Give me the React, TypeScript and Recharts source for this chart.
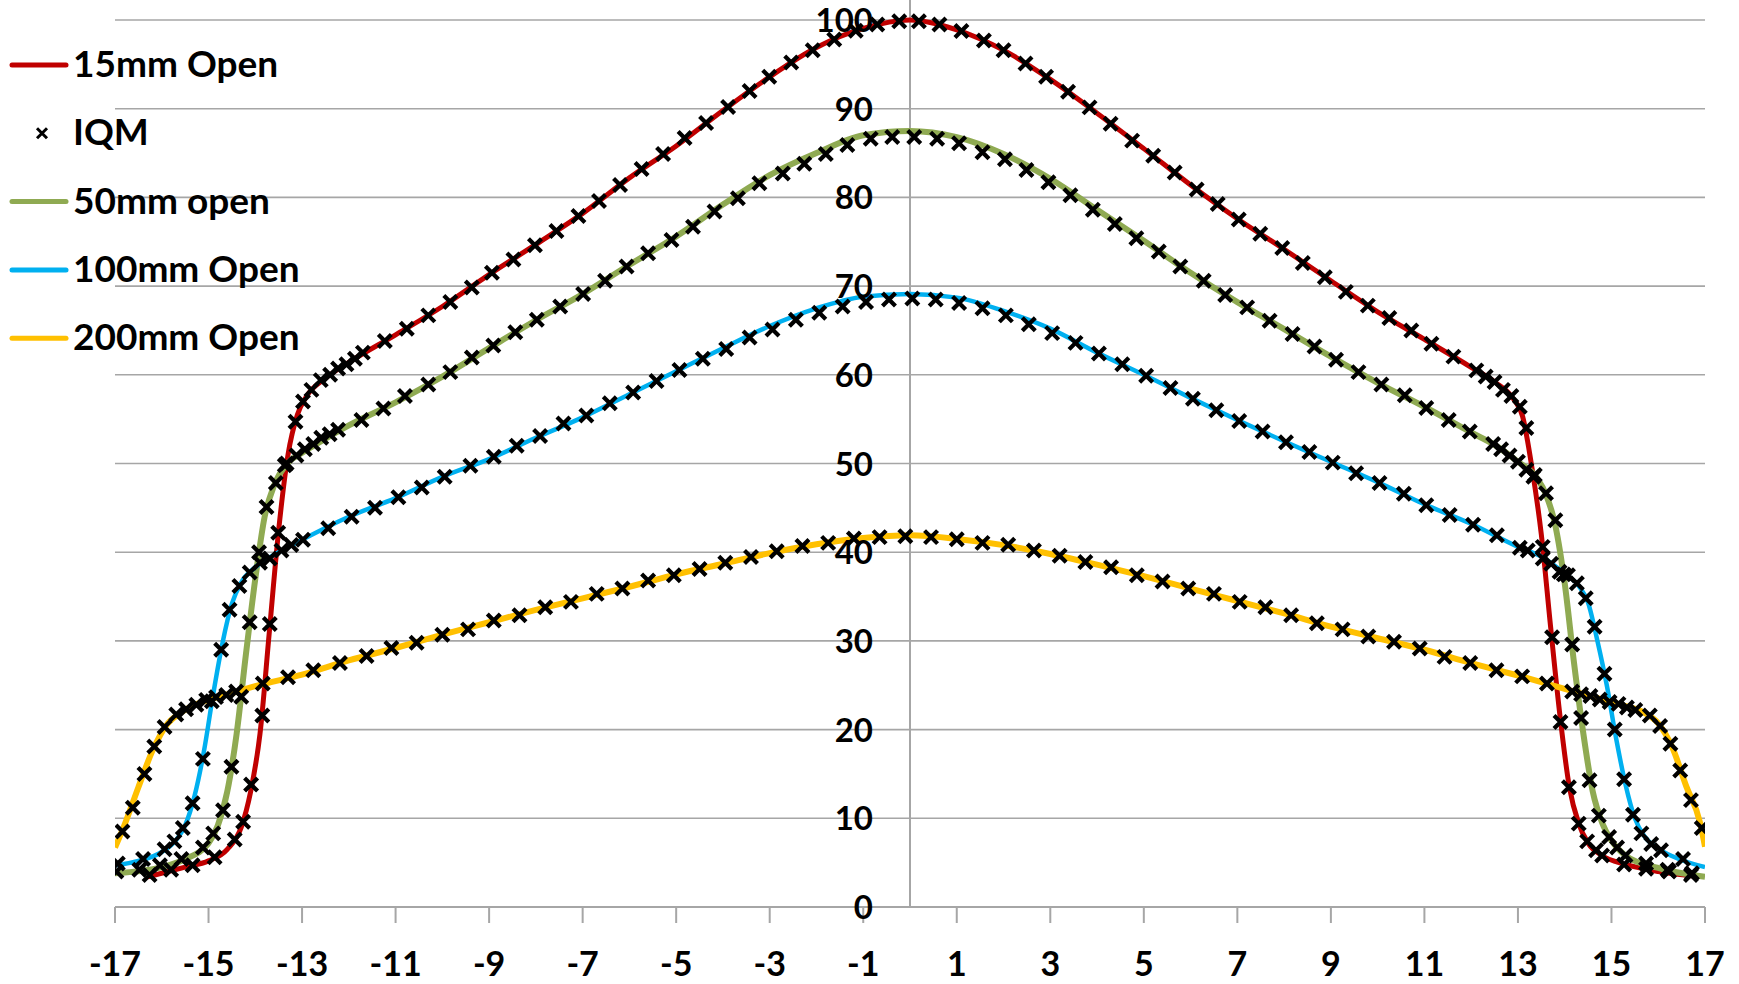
import React from 'react';
import {
  ComposedChart,
  Line,
  Scatter,
  XAxis,
  YAxis,
  CartesianGrid,
  ReferenceLine,
} from 'recharts';

// off-axis position (x) vs relative dose (y)
const xTicks = [-17, -15, -13, -11, -9, -7, -5, -3, -1, 1, 3, 5, 7, 9, 11, 13, 15, 17];
const yTicks = [0, 10, 20, 30, 40, 50, 60, 70, 80, 90, 100];

const open15Line: [number, number][] = [
  [-16.3, 3.4], [-15.5, 4.5], [-15, 5.2], [-14.6, 6.5], [-14.3, 9], [-14.1, 13], [-13.9, 19.5],
  [-13.7, 31], [-13.5, 42.5], [-13.3, 51], [-13.1, 55.5], [-12.9, 57.6], [-12.5, 59.6], [-12, 61.4],
  [-11, 64.5], [-10, 67.7], [-9, 71.3], [-8, 74.7], [-7, 78.2], [-6, 82.2], [-5, 85.8], [-4, 89.8],
  [-3, 93.6], [-2, 96.9], [-1, 99.05], [0, 100], [1, 98.9], [2, 96.6], [3, 93.3], [4, 89.5],
  [5, 85.5], [6, 81.4], [7, 77.6], [8, 74.15], [9, 70.6], [10, 67.1], [11, 64.0], [12, 60.85],
  [12.5, 59.2], [12.9, 57.3], [13.1, 55.3], [13.3, 49.5], [13.5, 42], [13.7, 31.5], [13.9, 21.5],
  [14.1, 13.5], [14.3, 9.4], [14.5, 7.2], [14.8, 5.8], [15.3, 4.8], [16, 4.0], [16.75, 3.5],
];

const open50Line: [number, number][] = [
  [-17, 3.8], [-16, 4.5], [-15.5, 5.4], [-15, 7.2], [-14.8, 9.2], [-14.6, 13], [-14.4, 19.5],
  [-14.2, 28.5], [-14, 37], [-13.8, 44], [-13.6, 47.5], [-13.3, 50.1], [-13, 51.2], [-12.5, 52.8],
  [-12, 54.3], [-11, 56.9], [-10, 59.8], [-9, 63.0], [-8, 66.15], [-7, 69.1], [-6, 72.4],
  [-5, 75.6], [-4, 79.2], [-3, 82.5], [-2, 85.0], [-1, 87.0], [0, 87.5], [1, 86.8], [2, 84.9],
  [3, 82.1], [4, 78.6], [5, 75.1], [6, 71.5], [7, 68.2], [8, 65.15], [9, 62.05], [10, 59.1],
  [11, 56.4], [12, 53.5], [12.5, 52.1], [13, 50.2], [13.4, 48.4], [13.6, 46.5], [13.8, 43],
  [14, 36.5], [14.2, 27.5], [14.4, 19.5], [14.6, 13], [14.8, 9.5], [15, 7.5], [15.3, 5.8],
  [16, 4.4], [17, 3.4],
];

const open100Line: [number, number][] = [
  [-17, 4.7], [-16.5, 5.2], [-16, 6.2], [-15.7, 7.5], [-15.5, 9.2], [-15.3, 12.5], [-15.1, 17.5],
  [-14.9, 24], [-14.7, 29.8], [-14.5, 34.2], [-14.3, 36.6], [-14, 38.3], [-13.5, 40.0], [-13, 41.4],
  [-12, 44.0], [-11, 46.1], [-10, 48.5], [-9, 50.5], [-8, 52.9], [-7, 55.2], [-6, 57.8],
  [-5, 60.4], [-4, 63.0], [-3, 65.5], [-2, 67.5], [-1, 68.8], [0, 69.1], [1, 68.7], [2, 67.2],
  [3, 65.2], [4, 62.5], [5, 60.0], [6, 57.4], [7, 54.9], [8, 52.5], [9, 50.2], [10, 47.9],
  [11, 45.4], [12, 43.2], [13, 40.6], [13.5, 39.5], [14, 37.6], [14.3, 36.2], [14.5, 34.3],
  [14.7, 30.0], [14.9, 25], [15.1, 19], [15.3, 13.8], [15.5, 10.0], [15.7, 8.0], [16, 6.6],
  [16.5, 5.3], [17, 4.5],
];

const open200Line: [number, number][] = [
  [-17, 6.7], [-16.8, 9.2], [-16.5, 13.5], [-16.2, 17.6], [-15.9, 20.5], [-15.6, 21.9],
  [-15.2, 23.0], [-14.5, 24.1], [-14, 24.9], [-13, 26.2], [-12, 27.8], [-11, 29.2], [-10, 30.7],
  [-9, 32.1], [-8, 33.5], [-7, 34.8], [-6, 36.1], [-5, 37.5], [-4, 38.7], [-3, 39.9], [-2, 40.9],
  [-1, 41.6], [0, 41.9], [1, 41.5], [2, 40.8], [3, 39.8], [4, 38.6], [5, 37.3], [6, 35.9],
  [7, 34.5], [8, 33.1], [9, 31.6], [10, 30.3], [11, 29.0], [12, 27.5], [13, 26.1], [14, 24.6],
  [14.6, 23.7], [15.2, 22.8], [15.7, 21.9], [16, 20.7], [16.3, 18.0], [16.6, 13.6], [16.9, 9.4],
  [17, 6.8],
];

const iqm15: [number, number][] = [
  [-16.26, 3.6], [-15.8, 4.2], [-15.34, 4.7], [-14.87, 5.6], [-14.44, 7.6], [-14.26, 9.6],
  [-14.09, 13.8], [-13.85, 21.6], [-13.69, 31.9], [-13.51, 42.2], [-13.33, 50], [-13.14, 54.7],
  [-12.98, 57], [-12.8, 58.3], [-12.6, 59.4], [-12.4, 60], [-12.23, 60.7], [-12.05, 61.2],
  [-11.87, 61.8], [-11.7, 62.5], [-11.23, 63.8], [-10.76, 65.2], [-10.3, 66.7], [-9.83, 68.2],
  [-9.37, 69.85], [-8.94, 71.5], [-8.48, 73.0], [-8.02, 74.6], [-7.56, 76.2], [-7.09, 77.9],
  [-6.65, 79.6], [-6.2, 81.4], [-5.74, 83.2], [-5.28, 84.9], [-4.82, 86.7], [-4.36, 88.4],
  [-3.89, 90.2], [-3.43, 92.0], [-3.01, 93.6], [-2.54, 95.2], [-2.08, 96.6], [-1.62, 97.8],
  [-1.16, 98.8], [-0.7, 99.5], [-0.23, 99.85], [0.19, 99.85], [0.63, 99.5], [1.1, 98.75],
  [1.58, 97.7], [2.0, 96.6], [2.47, 95.1], [2.91, 93.6], [3.38, 91.9], [3.84, 90.15], [4.29, 88.3],
  [4.75, 86.4], [5.2, 84.7], [5.66, 82.8], [6.13, 80.9], [6.58, 79.25], [7.03, 77.5], [7.49, 75.9],
  [7.96, 74.3], [8.4, 72.6], [8.87, 71.0], [9.32, 69.35], [9.79, 67.8], [10.25, 66.4],
  [10.72, 65.0], [11.15, 63.5], [11.62, 62.05], [12.11, 60.5], [12.31, 59.8], [12.5, 59.2],
  [12.68, 58.3], [12.86, 57.6], [13.04, 56.4], [13.18, 54.0], [13.33, 48.5], [13.53, 40.6],
  [13.73, 30.4], [13.91, 20.85], [14.09, 13.5], [14.3, 9.4], [14.48, 7.4], [14.67, 6.4],
  [14.8, 5.8], [15.27, 4.8], [15.74, 4.3], [16.23, 4.0], [16.7, 3.6],
];

const iqm50: [number, number][] = [
  [-16.97, 4.0], [-16.48, 4.2], [-16.04, 4.7], [-15.58, 5.4], [-15.12, 6.7], [-14.9, 8.3],
  [-14.69, 10.9], [-14.51, 15.8], [-14.3, 23.7], [-14.12, 32.1], [-13.92, 40], [-13.76, 45.1],
  [-13.56, 47.8], [-13.37, 49.8], [-13.12, 50.9], [-12.94, 51.6], [-12.76, 52.2], [-12.59, 52.9],
  [-12.41, 53.3], [-12.23, 53.8], [-11.73, 54.9], [-11.26, 56.2], [-10.8, 57.6], [-10.3, 58.9],
  [-9.83, 60.3], [-9.37, 61.96], [-8.91, 63.3], [-8.44, 64.8], [-7.98, 66.2], [-7.48, 67.7],
  [-6.99, 69.1], [-6.52, 70.6], [-6.06, 72.2], [-5.6, 73.7], [-5.1, 75.2], [-4.64, 76.7],
  [-4.18, 78.4], [-3.68, 79.9], [-3.22, 81.6], [-2.72, 82.7], [-2.26, 83.8], [-1.8, 84.9],
  [-1.34, 85.9], [-0.84, 86.6], [-0.38, 86.8], [0.09, 86.8], [0.58, 86.6], [1.05, 86.1],
  [1.55, 85.1], [2.03, 84.3], [2.49, 83.1], [2.96, 81.7], [3.43, 80.25], [3.91, 78.6], [4.38, 77.0],
  [4.84, 75.4], [5.32, 73.9], [5.78, 72.2], [6.28, 70.6], [6.74, 69.0], [7.21, 67.6], [7.69, 66.1],
  [8.18, 64.6], [8.65, 63.2], [9.11, 61.7], [9.59, 60.3], [10.08, 58.9], [10.58, 57.7],
  [11.04, 56.25], [11.52, 54.9], [11.97, 53.6], [12.47, 52.2], [12.64, 51.6], [12.82, 50.9],
  [13.0, 50.2], [13.18, 49.3], [13.36, 48.7], [13.6, 46.65], [13.8, 43.6], [13.98, 37.5],
  [14.16, 29.6], [14.35, 21.3], [14.53, 14.3], [14.73, 10.3], [14.95, 7.9], [15.12, 6.7],
  [15.3, 5.8], [15.74, 4.9], [16.2, 4.2], [16.72, 3.8],
];

const iqm100: [number, number][] = [
  [-16.94, 4.9], [-16.4, 5.4], [-15.94, 6.5], [-15.73, 7.4], [-15.55, 8.9], [-15.34, 11.7],
  [-15.12, 16.7], [-14.93, 23.2], [-14.73, 29], [-14.55, 33.5], [-14.34, 36.2], [-14.12, 37.7],
  [-13.9, 38.8], [-13.69, 39.3], [-13.44, 40.2], [-13.23, 40.8], [-12.98, 41.4], [-12.44, 42.7],
  [-11.94, 44], [-11.44, 45], [-10.94, 46.2], [-10.44, 47.3], [-9.95, 48.5], [-9.4, 49.75],
  [-8.9, 50.75], [-8.41, 52.0], [-7.91, 53.1], [-7.41, 54.5], [-6.92, 55.4], [-6.42, 56.8],
  [-5.92, 58.0], [-5.42, 59.3], [-4.93, 60.55], [-4.43, 61.8], [-3.93, 62.9], [-3.43, 64.2],
  [-2.94, 65.1], [-2.44, 66.2], [-1.94, 67.0], [-1.44, 67.7], [-0.94, 68.2], [-0.45, 68.5],
  [0.05, 68.6], [0.55, 68.5], [1.05, 68.1], [1.55, 67.5], [2.05, 66.7], [2.54, 65.7], [3.04, 64.7],
  [3.54, 63.6], [4.04, 62.4], [4.54, 61.2], [5.05, 59.9], [5.57, 58.5], [6.05, 57.3], [6.55, 56.0],
  [7.04, 54.8], [7.54, 53.6], [8.04, 52.4], [8.54, 51.3], [9.04, 50.1], [9.54, 48.9],
  [10.04, 47.8], [10.56, 46.6], [11.04, 45.3], [11.54, 44.2], [12.04, 43.1], [12.55, 41.9],
  [13.04, 40.5], [13.21, 40.2], [13.53, 39.3], [13.71, 38.7], [13.89, 37.8], [14.07, 37.4],
  [14.26, 36.5], [14.45, 34.8], [14.64, 31.6], [14.85, 26.3], [15.07, 20.0], [15.27, 14.4],
  [15.46, 10.4], [15.64, 8.3], [15.85, 7.1], [16.06, 6.4], [16.53, 5.4],
];

const iqm200: [number, number][] = [
  [-16.84, 8.5], [-16.62, 11.2], [-16.37, 15], [-16.16, 18.1], [-15.94, 20.3], [-15.69, 21.7],
  [-15.48, 22.3], [-15.26, 22.8], [-15.05, 23.35], [-14.84, 23.66], [-14.62, 23.9], [-14.41, 24.3],
  [-13.84, 25.2], [-13.3, 25.9], [-12.76, 26.7], [-12.19, 27.5], [-11.62, 28.3], [-11.09, 29.2],
  [-10.55, 29.8], [-10.0, 30.7], [-9.45, 31.3], [-8.9, 32.3], [-8.35, 32.9], [-7.8, 33.8],
  [-7.25, 34.4], [-6.7, 35.3], [-6.15, 35.9], [-5.6, 36.8], [-5.05, 37.4], [-4.5, 38.1],
  [-3.95, 38.8], [-3.4, 39.45], [-2.85, 40.1], [-2.3, 40.7], [-1.75, 41.05], [-1.2, 41.55],
  [-0.65, 41.7], [-0.1, 41.8], [0.45, 41.7], [1.0, 41.45], [1.55, 41.05], [2.1, 40.85],
  [2.65, 40.2], [3.2, 39.6], [3.75, 38.9], [4.3, 38.3], [4.85, 37.4], [5.4, 36.7], [5.95, 35.9],
  [6.5, 35.3], [7.05, 34.4], [7.6, 33.8], [8.15, 32.9], [8.7, 32.0], [9.25, 31.3], [9.8, 30.5],
  [10.35, 29.9], [10.9, 29.15], [11.43, 28.2], [11.98, 27.5], [12.54, 26.7], [13.09, 26.0],
  [13.62, 25.2], [14.16, 24.3], [14.35, 24.0], [14.55, 23.8], [14.75, 23.4], [14.96, 23.1],
  [15.15, 22.9], [15.33, 22.5], [15.51, 22.2], [15.82, 21.6], [16.04, 20.4], [16.26, 18.4],
  [16.47, 15.4], [16.7, 12.05], [16.93, 8.9],
];

const toPoints = (rows: [number, number][]) => rows.map(([x, y]) => ({ x, y }));

const WIDTH = 1739;
const HEIGHT = 984;
const Y_AXIS_WIDTH = 1;
const MARGIN = { top: 20, right: 34, bottom: 17, left: 115 - Y_AXIS_WIDTH };
const X_AXIS_HEIGHT = 60;
const X_MIN = -17;
const X_MAX = 17;
const GRID = '#a6a6a6';
const FONT = 'Lato, "Open Sans", sans-serif';

const plotLeft = MARGIN.left + Y_AXIS_WIDTH;
const plotWidth = WIDTH - plotLeft - MARGIN.right;
const zeroX = plotLeft + ((0 - X_MIN) / (X_MAX - X_MIN)) * plotWidth;

const series = [
  { name: '15mm Open', color: '#C00000', width: 5, rows: open15Line },
  { name: '50mm open', color: '#8FAA52', width: 6, rows: open50Line },
  { name: '100mm Open', color: '#00B0F0', width: 4.5, rows: open100Line },
  { name: '200mm Open', color: '#FFC000', width: 6, rows: open200Line },
];

const iqmPoints = [...iqm15, ...iqm50, ...iqm100, ...iqm200].map(([x, y]) => ({ x, y }));

const Cross = (props: any) => {
  const { cx, cy } = props;
  const s = 6.5;
  return (
    <path
      d={`M${cx - s},${cy - s}L${cx + s},${cy + s}M${cx - s},${cy + s}L${cx + s},${cy - s}`}
      stroke="#000"
      strokeWidth={4.2}
      fill="none"
    />
  );
};

const YTick = (props: any) => {
  const { y, payload } = props;
  return (
    <text
      x={zeroX - 37}
      y={y + 12}
      textAnchor="end"
      fontFamily={FONT}
      fontWeight={700}
      fontSize={33}
      fill="#000"
    >
      {payload.value}
    </text>
  );
};

const XTick = (props: any) => {
  const { x, y, payload } = props;
  return (
    <text x={x} y={y + 53} textAnchor="middle" fontFamily={FONT} fontWeight={700} fontSize={34} fill="#000">
      {payload.value}
    </text>
  );
};

const legendRows = [
  { label: '15mm Open', color: '#C00000', kind: 'line' },
  { label: 'IQM', color: '#000', kind: 'cross' },
  { label: '50mm open', color: '#8FAA52', kind: 'line' },
  { label: '100mm Open', color: '#00B0F0', kind: 'line' },
  { label: '200mm Open', color: '#FFC000', kind: 'line' },
];

function ChartLegend() {
  return (
    <svg width={340} height={380} style={{ position: 'absolute', left: 0, top: 0 }}>
      {legendRows.map((r, i) => {
        const cy = 65 + i * 68.3;
        return (
          <g key={r.label}>
            {r.kind === 'line' ? (
              <line x1={12} x2={66} y1={cy} y2={cy} stroke={r.color} strokeWidth={5} strokeLinecap="round" />
            ) : (
              <path
                d={`M${37},${cy - 5}L${47},${cy + 5}M${37},${cy + 5}L${47},${cy - 5}`}
                stroke="#000"
                strokeWidth={3}
              />
            )}
            <text x={73} y={cy + 12} fontFamily={FONT} fontWeight={700} fontSize={37} fill="#000">
              {r.label}
            </text>
          </g>
        );
      })}
    </svg>
  );
}

export default function App() {
  return (
    <div style={{ position: 'absolute', left: 0, top: 0, width: WIDTH, height: HEIGHT, background: '#fff' }}>
      <ComposedChart width={WIDTH} height={HEIGHT} margin={MARGIN}>
        <CartesianGrid horizontal vertical={false} stroke={GRID} strokeWidth={1.6} />
        <XAxis
          type="number"
          dataKey="x"
          domain={[X_MIN, X_MAX]}
          ticks={xTicks}
          interval={0}
          allowDataOverflow
          height={X_AXIS_HEIGHT}
          tickSize={16}
          tickMargin={0}
          stroke={GRID}
          strokeWidth={2}
          tick={<XTick />}
        />
        <YAxis
          type="number"
          dataKey="y"
          domain={[0, 100]}
          ticks={yTicks}
          interval={0}
          width={Y_AXIS_WIDTH}
          axisLine={false}
          tickLine={false}
          tick={<YTick />}
        />
        <ReferenceLine
          segment={[{ x: 0, y: 0 }, { x: 0, y: 102.3 }]}
          stroke={GRID}
          strokeWidth={2}
          ifOverflow="visible"
        />
        {series.map((s) => (
          <Line
            key={s.name}
            name={s.name}
            data={toPoints(s.rows)}
            dataKey="y"
            type="monotone"
            stroke={s.color}
            strokeWidth={s.width}
            dot={false}
            isAnimationActive={false}
          />
        ))}
        <Scatter name="IQM" data={iqmPoints} dataKey="y" shape={<Cross />} isAnimationActive={false} />
      </ComposedChart>
      <ChartLegend />
    </div>
  );
}
